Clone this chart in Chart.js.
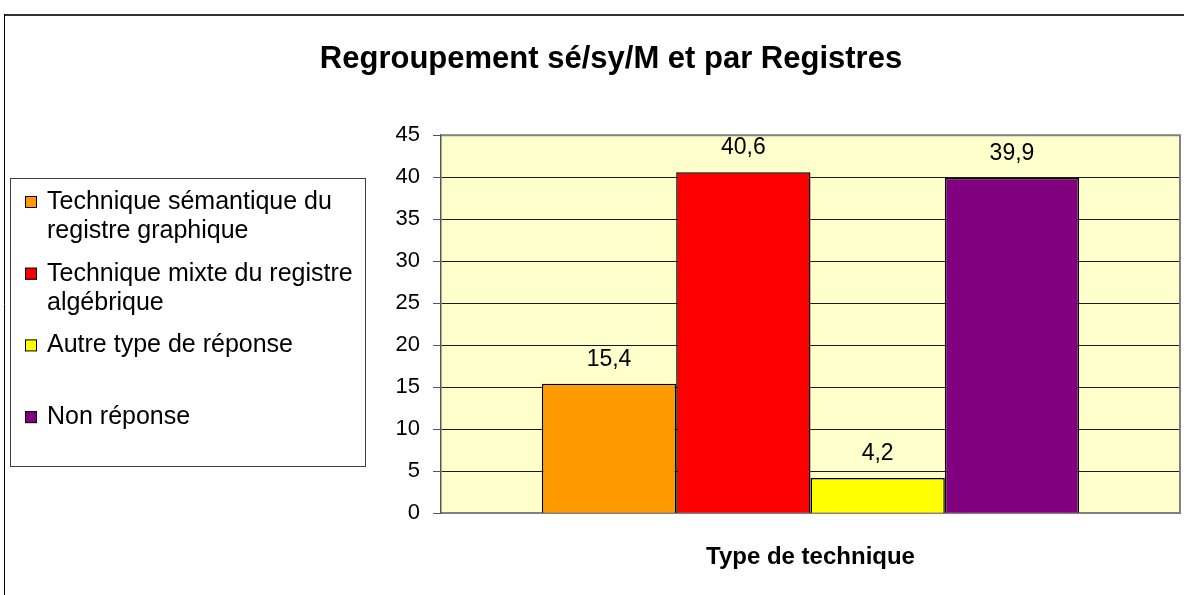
<!DOCTYPE html>
<html>
<head>
<meta charset="utf-8">
<script src="https://cdn.jsdelivr.net/npm/chart.js@4.4.1/dist/chart.umd.min.js"></script>
<style>
    html, body { margin: 0; padding: 0; background: #fff; }
    #wrap { position: relative; width: 1184px; height: 595px; }
</style>
</head>
<body>
<div id="wrap"><canvas id="chart" width="1184" height="595"></canvas></div>
<script>
// chart data
const chartTitle = "Regroupement sé/sy/M et par Registres";
const xAxisTitle = "Type de technique";
const categories = [""];
const seriesNames = [
    "Technique sémantique du registre graphique",
    "Technique mixte du registre algébrique",
    "Autre type de réponse",
    "Non réponse"
];
const seriesValues = [15.4, 40.6, 4.2, 39.9];
const seriesColors = ["#FF9900", "#FF0000", "#FFFF00", "#800080"];
const yMin = 0, yMax = 45, yStep = 5;

const FONT = "'Liberation Sans', Arial, sans-serif";

function frFmt(v) {
    return v.toFixed(1).replace(".", ",");
}

function wrapText(ctx, text, maxW) {
    const words = text.split(" ");
    const lines = [];
    let cur = "";
    for (const w of words) {
        const test = cur ? cur + " " + w : w;
        if (ctx.measureText(test).width > maxW && cur) {
            lines.push(cur);
            cur = w;
        } else cur = test;
    }
    if (cur) lines.push(cur);
    return lines;
}

/** ---------------- plugins ---------------- */

// white page, outer frame, plot background
const frame = {
    id: "frame",
    beforeDraw(chart) {
        const { ctx, chartArea: a } = chart;
        ctx.save();
        ctx.fillStyle = "#fff";
        ctx.fillRect(0, 0, chart.width, chart.height);
        ctx.strokeStyle = "#333";
        ctx.lineWidth = 2;
        ctx.beginPath();
        ctx.moveTo(4, 15); ctx.lineTo(chart.width, 15);
        ctx.stroke();
        ctx.lineWidth = 1;
        ctx.strokeStyle = "#000";
        ctx.beginPath();
        ctx.moveTo(4.5, 14); ctx.lineTo(4.5, chart.height);
        ctx.stroke();
        ctx.fillStyle = "#FFFFCC";
        ctx.fillRect(a.left, a.top, a.right - a.left, a.bottom - a.top);
        ctx.restore();
    },
    afterDraw(chart) {
        const { ctx, chartArea: a } = chart;
        ctx.save();
        ctx.strokeStyle = "#808080";
        ctx.lineWidth = 2;
        ctx.beginPath();
        ctx.moveTo(a.left, a.top);
        ctx.lineTo(a.right, a.top);
        ctx.lineTo(a.right, a.bottom);
        ctx.stroke();
        ctx.restore();
    }
};

// value labels above each bar
const valueLabels = {
    id: "valueLabels",
    afterDatasetsDraw(chart) {
        const ctx = chart.ctx;
        ctx.save();
        ctx.font = "23px " + FONT;
        ctx.fillStyle = "#000";
        ctx.textAlign = "center";
        ctx.textBaseline = "alphabetic";
        chart.data.datasets.forEach((ds, i) => {
            const meta = chart.getDatasetMeta(i);
            meta.data.forEach((bar, j) => {
                ctx.fillText(frFmt(ds.data[j]), bar.x, bar.y - 18);
            });
        });
        ctx.restore();
    }
};

// boxed legend on the left, Excel style
const sideLegend = {
    id: "sideLegend",
    afterDraw(chart) {
        const ctx = chart.ctx;
        ctx.save();
        ctx.strokeStyle = "#404040";
        ctx.lineWidth = 1;
        ctx.strokeRect(10.5, 178.5, 355, 288);
        ctx.font = "25px " + FONT;
        ctx.textBaseline = "middle";
        ctx.textAlign = "left";
        chart.data.datasets.forEach((ds, i) => {
            const y0 = 202 + i * 71.7;
            ctx.fillStyle = ds.backgroundColor;
            ctx.fillRect(25, y0 - 6, 12, 12);
            ctx.strokeStyle = "#000";
            ctx.strokeRect(25.5, y0 - 5.5, 11, 11);
            ctx.fillStyle = "#000";
            wrapText(ctx, ds.label, 316).forEach((line, k) => {
                ctx.fillText(line, 47, y0 + k * 29);
            });
        });
        ctx.restore();
    }
};

/** ---------------- chart ---------------- */

const datasets = seriesNames.map((name, i) => ({
    label: name,
    data: [seriesValues[i]],
    backgroundColor: seriesColors[i],
    borderColor: "#000",
    borderWidth: 1.5,
    categoryPercentage: 0.727,
    barPercentage: 1.0
}));

new Chart(document.getElementById("chart"), {
    type: "bar",
    data: { labels: categories, datasets },
    plugins: [frame, valueLabels, sideLegend],
    options: {
        responsive: false,
        devicePixelRatio: 1,
        animation: false,
        layout: { padding: { left: 42, right: 4, top: 15, bottom: 23 } },
        plugins: {
            legend: { display: false },
            tooltip: { enabled: false },
            title: {
                display: true,
                text: chartTitle,
                color: "#000",
                font: { family: FONT, size: 31, weight: "bold", lineHeight: 1.2 },
                padding: { top: 26, bottom: 57 }
            }
        },
        scales: {
            x: {
                grid: { display: false, drawTicks: false },
                ticks: { display: false },
                border: { display: true, color: "#808080", width: 2 },
                title: {
                    display: true,
                    text: xAxisTitle,
                    color: "#000",
                    font: { family: FONT, size: 24, weight: "bold", lineHeight: 1.2 },
                    padding: { top: 30, bottom: 0 }
                }
            },
            y: {
                min: yMin,
                max: yMax,
                afterFit(scale) { scale.width = 399; },
                ticks: {
                    stepSize: yStep,
                    color: "#000",
                    padding: 13,
                    font: { family: FONT, size: 22 }
                },
                grid: { color: "#1a1a1a", lineWidth: 1, tickLength: 8, tickColor: "#555" },
                border: { display: true, color: "#555", width: 1.5 }
            }
        }
    }
});
</script>
</body>
</html>
